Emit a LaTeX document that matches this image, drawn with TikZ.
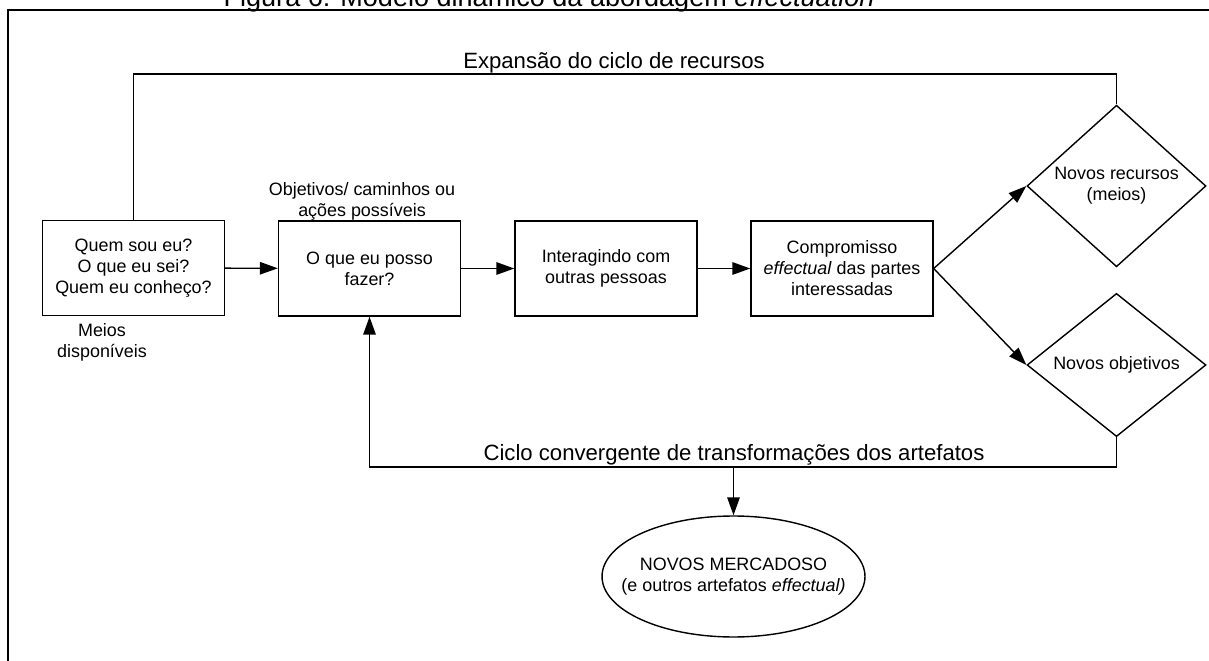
\documentclass[tikz,border=0pt]{standalone}
\usepackage{fontspec}
\setmainfont{Liberation Sans}
\usetikzlibrary{shapes.geometric}
\usetikzlibrary{arrows.meta}

\begin{document}
\begin{tikzpicture}
[-,thick,x=0.02cm,y=-0.02cm,%
  boxDecorate/.style={shape=rectangle,draw,thick,minimum width=3.64cm,minimum height=1.9cm,inner sep=2pt,align=center,font=\fontsize{10.2}{12}\selectfont},%
  diamondDecorate/.style={shape=diamond,draw,thick,minimum width=3.58cm,minimum height=2.78cm,inner sep=0pt,align=center,font=\fontsize{10.2}{12}\selectfont},%
  ellipseDecorate/.style={shape=ellipse,draw,thick,minimum width=5.26cm,minimum height=2.42cm,inner xsep=-0.5cm,inner ysep=0.45cm,align=center,font=\fontsize{10.2}{12}\selectfont},%
  textDecorate/.style={align=center,inner sep=0pt,font=\fontsize{10.2}{12}\selectfont},%
  loopDecorate/.style={anchor=base,inner sep=0pt,font=\fontsize{12.6}{15}\selectfont},%
  lineDecorate/.style={-,thick},%
  arrowDecorate/.style={-{Triangle[length=0.36cm,width=0.25cm]},thick}]
\useasboundingbox (0,0) rectangle (1209,661);
%% frame and title
\draw[line width=0.04cm,line join=miter] (8,680) -- (8,10) -- (1230,10);
\node[anchor=base,inner sep=0pt,font=\fontsize{15.4}{18}\selectfont] (title) at (549,7)
  {Figura 6: Modelo dinâmico da abordagem \textit{effectuation}};
%% nodes
\node[boxDecorate] (quem) at (133.5,268) {Quem sou eu?\\O que eu sei?\\Quem eu conheço?};
\node[boxDecorate] (oque) at (369.5,268.5) {O que eu posso\\fazer?};
\node[boxDecorate] (inter) at (606,268.5) {Interagindo com\\outras pessoas};
\node[boxDecorate] (comp) at (842,268.5) {Compromisso\\\textit{effectual} das partes\\interessadas};
\node[diamondDecorate] (recursos) at (1116.5,186) {Novos recursos\\(meios)};
\node[diamondDecorate] (objetivos) at (1116.5,365) {Novos objetivos};
\node[ellipseDecorate] (mercados) at (733.5,576.5) {NOVOS MERCADOSO\\(e outros artefatos \textit{effectual)}};
%% node labels
\node[textDecorate] (meios) at (102,342) {Meios\\disponíveis};
\node[textDecorate] (acoes) at (362,201) {Objetivos/ caminhos ou\\ações possíveis};
%% main chain
\path
(quem) edge[arrowDecorate] (oque)
(oque) edge[arrowDecorate] (inter)
(inter) edge[arrowDecorate] (comp)
(comp.east) edge[arrowDecorate] (recursos.west)
(comp.east) edge[arrowDecorate] (objetivos.west);
%% expansion cycle
\coordinate (expTop) at (quem.north |- 0,74);
\draw[lineDecorate] (quem.north) -- (expTop) -| (recursos.north);
\node[loopDecorate] (expLabel) at (614,69) {Expansão do ciclo de recursos};
%% convergent cycle
\coordinate (cicloLeft) at (oque.south |- 0,467);
\coordinate (cicloMid) at (mercados.north |- 0,467);
\draw[arrowDecorate] (objetivos.south) |- (cicloLeft) -- (oque.south);
\draw[arrowDecorate] (cicloMid) -- (mercados.north);
\node[loopDecorate] (cicloLabel) at (734,460) {Ciclo convergente de transformações dos artefatos};
\end{tikzpicture}
\end{document}
